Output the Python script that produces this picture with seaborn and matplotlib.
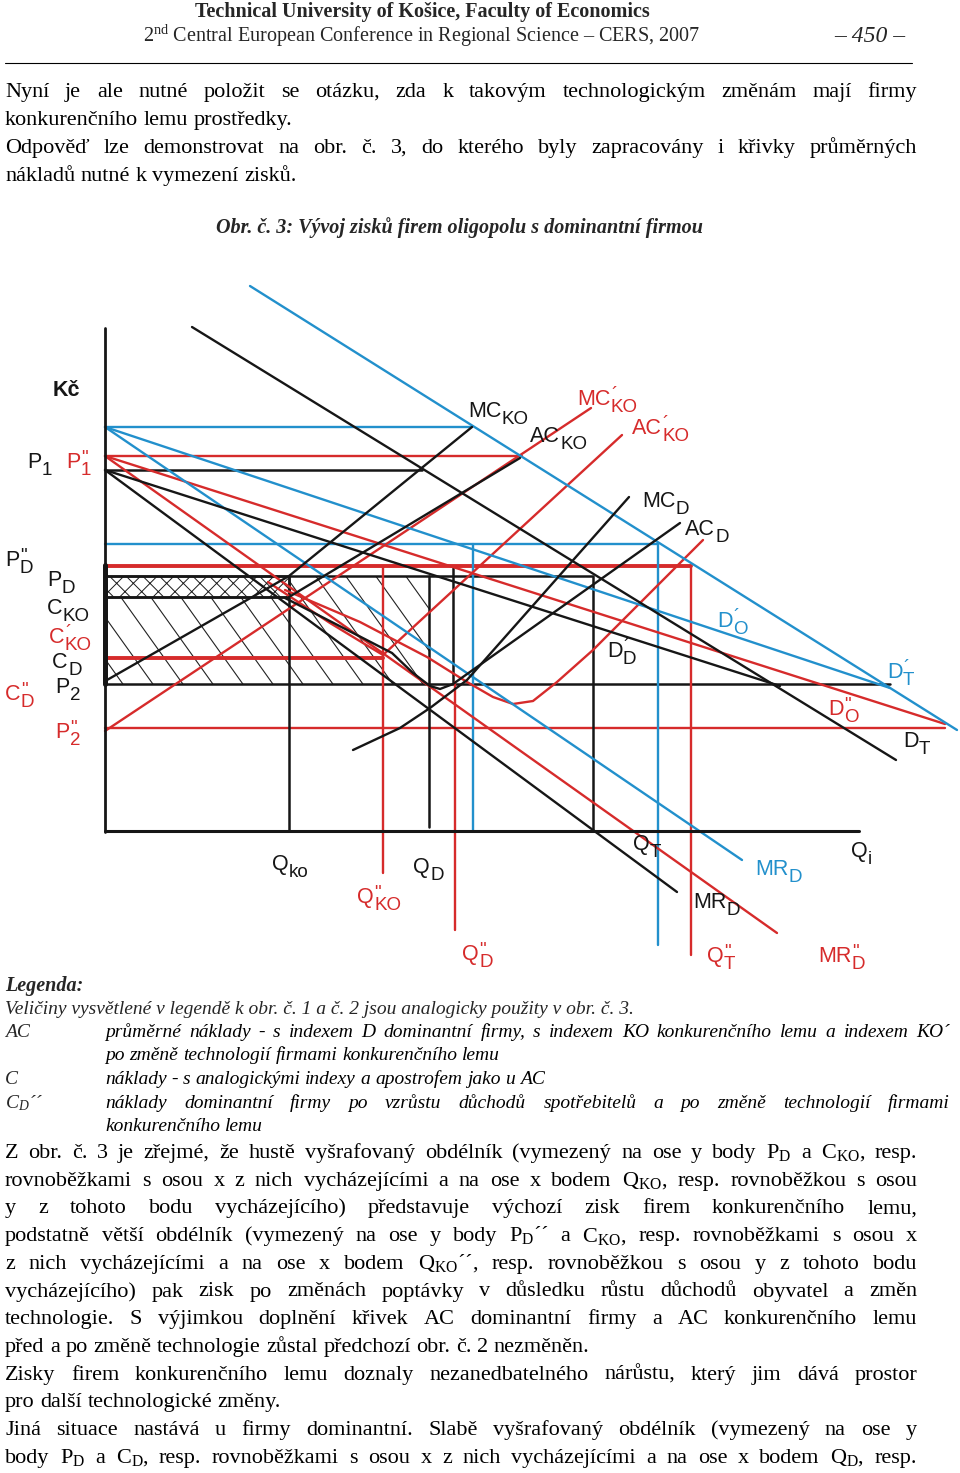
import numpy as np
import pandas as pd
import matplotlib
matplotlib.use("Agg")
import matplotlib.pyplot as plt
import seaborn as sns
from matplotlib.patches import Rectangle, Polygon

# ---------------------------------------------------------------------------
# DATA  (diagram units: quantity Q to the right, Kč upward, origin = axis corner)
# ---------------------------------------------------------------------------
# black curves (original situation)
D_T_q = [87, 791];                 D_T_p = [504, 71]
D_D_q = [0, 675];                  D_D_p = [361, 145]
MR_D_q = [0, 572];                 MR_D_p = [361, -61]
MC_KO_q = [2, 184, 367];           MC_KO_p = [151, 255, 404]
AC_KO_q = [184, 415];              AC_KO_p = [234, 373]
MC_D_q = [248, 295, 325, 362, 524]; MC_D_p = [81, 103, 123, 151, 334]
AC_D_q = [180, 287, 308, 325, 335, 348, 575]
AC_D_p = [233, 178, 158, 145, 142, 147, 308]

# red curves (after income growth and technology change)
D2_O_q = [0, 840];                 D2_O_p = [375, 107]
MR2_D_q = [0, 672];                MR2_D_p = [375, -102]
MC1_KO_q = [0, 486];               MC1_KO_p = [100, 423]
AC1_KO_q = [163, 175, 225, 258, 278, 517]
AC1_KO_p = [249, 241, 208, 188, 176, 396]
AC2_D_q = [180, 255, 322, 362, 388, 408, 428, 452, 488, 575, 598]
AC2_D_p = [241, 209, 174, 149, 134, 127, 130, 149, 181, 268, 291]

# blue curves (after income growth)
D1_T_q = [145, 852];               D1_T_p = [545, 101]
D1_O_q = [0, 785];                 D1_O_p = [404, 143]
MR1_D_q = [0, 637];                MR1_D_p = [404, -29]

# price levels drawn from the y axis
black_lvl = [361, 255, 234, 147];  black_lvl_end = [317, 488, 184, 785]
red_lvl = [375, 265, 173, 103];    red_lvl_end = [417, 586, 278, 840]
red_lvl_w = [1.7, 2.8, 2.8, 1.7]
blue_lvl = [404, 287];             blue_lvl_end = [367, 553]

# quantities dropped to the x axis
black_q = [184, 324, 348, 488];    black_q_lo = [0, 4, 149, 0];      black_q_hi = [255, 255, 263, 254]
red_q = [278, 350, 586];           red_q_lo = [-42, -99, -124];      red_q_hi = [264, 149, 265]
blue_q = [368, 553];               blue_q_lo = [1, -114];            blue_q_hi = [287, 287]

# profit rectangles
dense_q = [0, 184];  dense_p = [234, 255]
sparse_q = [0, 0, 184, 184, 325, 325]
sparse_p = [147, 234, 234, 255, 255, 147]

# axis labels
lab_main = ["P", "P", "P", "P", "C", "C", "C", "P", "C", "P",
            "MC", "AC", "MC", "AC", "MC", "AC", "D", "D", "D", "D", "D",
            "Q", "Q", "Q", "Q", "MR", "Q", "MR", "Q", "Q", "MR"]
lab_sub = ["1", "1", "D", "D", "KO", "KO", "D", "2", "D", "2",
           "KO", "KO", "KO", "KO", "D", "D", "O", "D", "T", "O", "T",
           "ko", "KO", "D", "T", "D", "i", "D", "D", "T", "D"]
lab_prime = ["", '"', '"', "", "", "´", "", "", '"', '"',
             "", "", "´", "´", "", "", "´", "´", "´", '"', "",
             "", '"', "", "", "", "", "", '"', '"', '"']
lab_q = [-78, -39, -100, -58, -58, -56, -53, -50, -100, -50,
         363, 425, 472, 527, 537, 580, 612, 502, 782, 723, 798,
         167, 252, 308, 528, 650, 746, 588, 357, 602, 713]
lab_p = [363, 363, 265, 245, 217, 188, 163, 138, 131, 93,
         414, 389, 426, 397, 324, 296, 204, 174, 153, 116, 84,
         -39, -72, -42, -19, -44, -26, -77, -129, -131, -131]
lab_col = ["k", "r", "k", "k", "k", "r", "k", "k", "r", "r",
           "k", "k", "r", "r", "k", "k", "b", "k", "b", "r", "k",
           "k", "r", "k", "k", "b", "k", "k", "r", "r", "r"]

# page text
header1 = "Technical University of Košice, Faculty of Economics"
header2 = r"2$^{\mathrm{nd}}$ Central European Conference in Regional Science – CERS, 2007"
page_no = "– 450 –"
para1 = [("Nyní je ale nutné položit se otázku, zda k takovým technologickým změnám mají firmy", True),
         ("konkurenčního lemu prostředky.", False),
         ("Odpověď lze demonstrovat na obr. č. 3, do kterého byly zapracovány i křivky průměrných", True),
         ("nákladů nutné k vymezení zisků.", False)]
caption = "Obr. č. 3: Vývoj zisků firem oligopolu s dominantní firmou"
legend_head = "Legenda:"
legend_intro = "Veličiny vysvětlené v legendě k obr. č. 1 a č. 2 jsou analogicky použity v obr. č. 3."
legend_keys = ["AC", "", "C", r"$\mathit{C_D}$´´", ""]
legend_vals = [("průměrné náklady - s indexem D dominantní firmy, s indexem KO konkurenčního lemu a indexem KO´", True),
               ("po změně technologií firmami konkurenčního lemu", False),
               ("náklady - s analogickými indexy a apostrofem jako u AC", False),
               ("náklady dominantní firmy po vzrůstu důchodů spotřebitelů a po změně technologií firmami", True),
               ("konkurenčního lemu", False)]
para2 = [(r"Z obr. č. 3 je zřejmé, že hustě vyšrafovaný obdélník (vymezený na ose y body $\mathrm{P_D}$ a $\mathrm{C_{KO}}$, resp.", True),
         (r"rovnoběžkami s osou x z nich vycházejícími a na ose x bodem $\mathrm{Q_{KO}}$, resp. rovnoběžkou s osou", True),
         ("y z tohoto bodu vycházejícího) představuje výchozí zisk firem konkurenčního lemu,", True),
         (r"podstatně větší obdélník (vymezený na ose y body $\mathrm{P_D}$´´ a $\mathrm{C_{KO}}$, resp. rovnoběžkami s osou x", True),
         (r"z nich vycházejícími a na ose x bodem $\mathrm{Q_{KO}}$´´, resp. rovnoběžkou s osou y z tohoto bodu", True),
         ("vycházejícího) pak zisk po změnách poptávky v důsledku růstu důchodů obyvatel a změn", True),
         ("technologie. S výjimkou doplnění křivek AC dominantní firmy a AC konkurenčního lemu", True),
         ("před a po změně technologie zůstal předchozí obr. č.  2 nezměněn.", False),
         ("Zisky firem konkurenčního lemu doznaly nezanedbatelného nárůstu, který jim dává prostor", True),
         ("pro další technologické změny.", False),
         ("Jiná situace nastává u firmy dominantní. Slabě vyšrafovaný obdélník (vymezený na ose y", True),
         (r"body $\mathrm{P_D}$ a $\mathrm{C_D}$, resp.  rovnoběžkami s osou x z nich vycházejícími a na ose x bodem $\mathrm{Q_D}$, resp.", True)]

# ---------------------------------------------------------------------------
# STYLE
# ---------------------------------------------------------------------------
sns.set_theme(style="white")
plt.rcParams["font.family"] = ["Liberation Serif", "DejaVu Serif"]
plt.rcParams["mathtext.fontset"] = "custom"
plt.rcParams["mathtext.rm"] = "Liberation Serif"
plt.rcParams["mathtext.it"] = "Liberation Serif:italic"
plt.rcParams["hatch.linewidth"] = 0.7

COL = {"k": "#161616", "r": "#d62b2b", "b": "#2290cc"}
W, H = 960, 1473

fig = plt.figure(figsize=(W / 100, H / 100), dpi=100)
fig.patch.set_facecolor("white")
ax = fig.add_axes([0, 0, 1, 1])
ax.set_xlim(0, W)
ax.set_ylim(H, 0)
ax.axis("off")

# diagram axes: 1 data unit = 1 pixel, origin at page pixel (105, 831)
top_px, bot_px = 270, 990
dax = fig.add_axes([0, (H - bot_px) / H, 1, (bot_px - top_px) / H])
dax.set_xlim(-105, W - 105)
dax.set_ylim(831 - bot_px, 831 - top_px)
dax.axis("off")
dax.patch.set_alpha(0)

renderer = fig.canvas.get_renderer()


def curve(q, p, c, lw=1.6, z=3):
    sns.lineplot(x=q, y=p, ax=dax, color=COL[c], linewidth=lw, sort=False,
                 estimator=None, legend=False, zorder=z)


# ---- profit rectangles ------------------------------------------------------
clip = Polygon(np.column_stack([sparse_q, sparse_p]), closed=True, fill=False,
               lw=0, transform=dax.transData)
dax.add_patch(clip)
for off in np.arange(-160, 340, 30):
    hl, = dax.plot([off, off + 110], [270, 116], color="#222222", lw=0.8, zorder=1)
    hl.set_clip_path(clip)
dax.add_patch(Rectangle((dense_q[0], dense_p[0]), dense_q[1] - dense_q[0],
                        dense_p[1] - dense_p[0], facecolor="white",
                        edgecolor="#1a1a1a", hatch="xx", lw=1.8, zorder=2))

# ---- level lines and drop lines -------------------------------------------
for lv, e in zip(black_lvl, black_lvl_end):
    curve([0, e], [lv, lv], "k", 1.8)
for lv, e, w in zip(red_lvl, red_lvl_end, red_lvl_w):
    curve([0, e], [lv, lv], "r", w)
for lv, e in zip(blue_lvl, blue_lvl_end):
    curve([0, e], [lv, lv], "b", 1.7)
for q, lo, hi in zip(black_q, black_q_lo, black_q_hi):
    curve([q, q], [lo, hi], "k", 1.8)
for q, lo, hi in zip(red_q, red_q_lo, red_q_hi):
    curve([q, q], [lo, hi], "r", 1.7)
for q, lo, hi in zip(blue_q, blue_q_lo, blue_q_hi):
    curve([q, q], [lo, hi], "b", 1.7)

# ---- curves ---------------------------------------------------------------
for q, p in [(D2_O_q, D2_O_p), (MR2_D_q, MR2_D_p), (MC1_KO_q, MC1_KO_p),
             (AC1_KO_q, AC1_KO_p), (AC2_D_q, AC2_D_p)]:
    curve(q, p, "r", 1.7)
for q, p in [(D1_T_q, D1_T_p), (D1_O_q, D1_O_p), (MR1_D_q, MR1_D_p)]:
    curve(q, p, "b", 1.7)
for q, p in [(D_T_q, D_T_p), (D_D_q, D_D_p), (MR_D_q, MR_D_p), (MC_KO_q, MC_KO_p),
             (AC_KO_q, AC_KO_p), (MC_D_q, MC_D_p), (AC_D_q, AC_D_p)]:
    curve(q, p, "k", 1.7)

# axes of the diagram
curve([0, 0], [-1, 503], "k", 2.0, z=4)
curve([0, 754], [0, 0], "k", 2.2, z=4)
curve([0, 0], [147, 266], "k", 3.6, z=4)

# ---- diagram labels ---------------------------------------------------------
SANS = "Liberation Sans"


def dlabel(q, p, main, sub, prime, c):
    t = dax.text(q, p, main, color=COL[c], fontsize=15.5, family=SANS,
                 va="baseline", ha="left", zorder=6)
    w = t.get_window_extent(renderer).width
    if prime:
        # prime mark stacked above the subscript in one text object
        # (baseline alignment refers to the last line = the subscript)
        dax.text(q + w + 0.5, p - 7, prime + "\n" + sub, color=COL[c], fontsize=13.5,
                 family=SANS, va="baseline", ha="left", linespacing=0.6, zorder=6)
    elif sub:
        dax.text(q + w + 0.5, p - 7, sub, color=COL[c], fontsize=13.5, family=SANS,
                 va="baseline", ha="left", zorder=6)


dax.text(-52, 435, "Kč", color=COL["k"], fontsize=15.5, family=SANS,
         fontweight="bold", va="baseline", ha="left")
for m, s, pr, q, p, c in zip(lab_main, lab_sub, lab_prime, lab_q, lab_p, lab_col):
    dlabel(q, p, m, s, pr, c)

# ---------------------------------------------------------------------------
# PAGE TEXT
# ---------------------------------------------------------------------------


def put_line(y, s, x0, x1, size, style="normal", weight="normal", justify=True):
    words = s.split()
    texts = [ax.text(0, y, w, fontsize=size, fontstyle=style, fontweight=weight,
                     va="baseline", ha="left", color="black") for w in words]
    widths = [t.get_window_extent(renderer).width for t in texts]
    gap = size * 100 / 72 * 0.25
    if justify and len(words) > 1:
        gap = (x1 - x0 - sum(widths)) / (len(words) - 1)
    x = x0
    for t, w in zip(texts, widths):
        t.set_x(x)
        x += w + gap


ax.text(422, 17, header1, fontsize=14.5, fontweight="bold", ha="center", va="baseline")
ax.text(422, 42, header2, fontsize=14.5, ha="center", va="baseline")
ax.text(870, 42, page_no, fontsize=17, fontstyle="italic", ha="center", va="baseline")
ax.plot([5, 912], [63, 63], color="black", lw=0.8)

BODY = 16
for i, (s, j) in enumerate(para1):
    put_line(97 + 28 * i, s, 5, 917, BODY, justify=j)

ax.text(460, 233, caption, fontsize=14.5, fontstyle="italic", fontweight="bold",
        ha="center", va="baseline")

LEG = 14
ax.text(5, 991, legend_head, fontsize=LEG + 0.5, fontstyle="italic", fontweight="bold",
        va="baseline")
ax.text(5, 1014, legend_intro, fontsize=LEG, fontstyle="italic", va="baseline")
leg_y = [1037, 1060, 1084, 1108, 1131]
for y, k, (s, j) in zip(leg_y, legend_keys, legend_vals):
    if k:
        ax.text(5, y, k, fontsize=LEG, fontstyle="italic", va="baseline")
    put_line(y, s, 105, 950, LEG, style="italic", justify=j)

for i, (s, j) in enumerate(para2):
    put_line(1158 + 27.7 * i, s, 5, 917, BODY, justify=j)

fig.savefig("out.png", dpi=100, facecolor="white")
